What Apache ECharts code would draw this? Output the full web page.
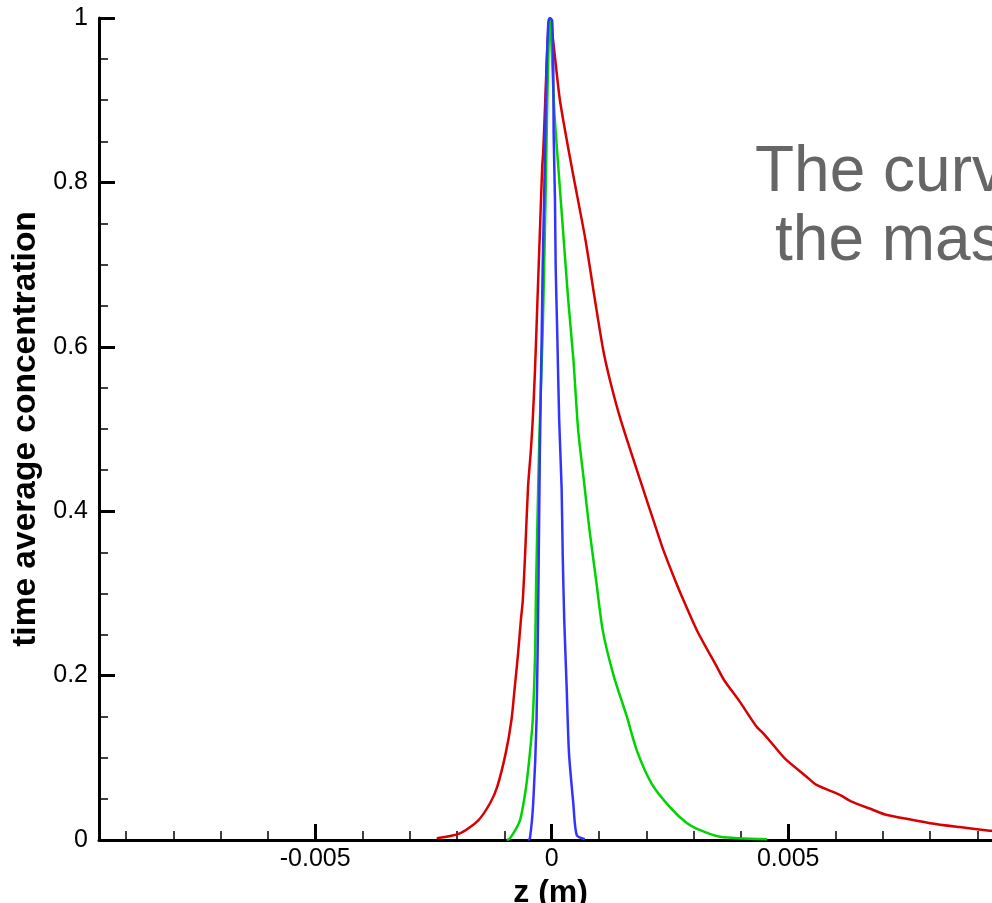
<!DOCTYPE html>
<html><head><meta charset="utf-8">
<script src="https://cdn.jsdelivr.net/npm/echarts@6/dist/echarts.min.js"></script>
<style>html,body{margin:0;padding:0;background:#fff}#chart{width:992px;height:903px}</style>
</head><body><div id="chart"></div>
<script>
// ---- data ----
const redZ = [-0.00243,-0.00194,-0.00155,-0.0013,-0.00115,-0.00097,-0.00085,-0.00078,-0.00071,-0.00065,-0.00061,-0.00056,-0.0005,-0.00044,-0.0004,-0.00035,-0.0003,-0.00025,-0.0002,-0.00018,-0.00004,
  0.000034,0.000175,0.000423,0.000715,0.000915,0.00109,0.00123,0.00146,0.00187,0.00222,0.00236,0.00261,0.002755,0.00308,0.00349,0.00364,0.00398,0.00433,0.00447,0.004685,0.00495,0.00539,0.0056,0.0061,0.00633,0.0068,0.00705,0.00764,0.008,0.00856,0.00922,0.0095];
const redC = [0.002,0.008,0.024,0.045,0.065,0.106,0.146,0.186,0.227,0.268,0.292,0.349,0.429,0.474,0.511,0.575,0.657,0.738,0.819,0.836,1.0,
  0.971,0.900,0.819,0.730,0.657,0.596,0.560,0.511,0.438,0.377,0.353,0.316,0.296,0.254,0.211,0.195,0.168,0.138,0.130,0.1156,0.098,0.077,0.067,0.0547,0.047,0.0365,0.031,0.0243,0.0205,0.0162,0.0116,0.0108];

const greenZ = [-0.00095,-0.00088,-0.00067,-0.00054,-0.00046,-0.0004,-0.00035,-0.00033,-0.0003,-0.00026,-0.00019,-0.00013,-0.0001,-0.00007,-0.00004,
  0.000055,0.00014,0.000245,0.00035,0.00046,0.00056,0.00068,0.0008,0.00094,0.00108,0.00131,0.00159,0.0018,0.00211,0.0025,0.00285,0.00314,0.00356,0.00455];
const greenC = [0,0.002,0.024,0.065,0.106,0.146,0.227,0.308,0.389,0.49,0.617,0.779,0.876,0.955,1.0,
  0.888,0.819,0.738,0.657,0.584,0.499,0.438,0.377,0.316,0.255,0.2,0.15,0.109,0.069,0.04,0.021,0.012,0.004,0.001];

const blueZ = [-0.0005,-0.00046,-0.00039,-0.00032,-0.00028,-0.00025,-0.00021,-0.00019,-0.00016,-0.000135,-0.000106,-0.00007,-0.00004,
  0.00001,0.000034,0.000042,0.00007,0.000085,0.000118,0.000159,0.00021,0.000233,0.000266,0.000317,0.000366,0.000457,0.00053,0.0007];
const blueC = [0,0.002,0.045,0.146,0.308,0.471,0.617,0.697,0.779,0.86,0.94,0.995,1.0,
  0.997,0.94,0.86,0.779,0.697,0.617,0.511,0.429,0.349,0.268,0.186,0.106,0.045,0.006,0.001];

const xMajorTicks = [-0.005, 0, 0.005];
const xMinorTicks = [-0.009,-0.008,-0.007,-0.006,-0.004,-0.003,-0.002,-0.001,0.001,0.002,0.003,0.004,0.006,0.007,0.008,0.009,0.010];
const yTickLabels = [0, 0.2, 0.4, 0.6, 0.8, 1];

const xTitle = 'z (m)';
const yTitle = 'time average concentration';
const noteLine1 = 'The curves';
const noteLine2 = 'the mass';

// ---- chart ----
const zip = (a, b) => a.map((v, i) => [v, b[i]]);
const FONT = 'Liberation Sans, Arial, Helvetica, sans-serif';
const xMin = -0.00957, xMax = 0.0105;
const chart = echarts.init(document.getElementById('chart'), null, {renderer: 'canvas'});

const lineSeries = (name, z, c, color) => ({
  name, type: 'line', xAxisIndex: 0, yAxisIndex: 0,
  data: zip(z, c), showSymbol: false, symbol: 'none',
  smooth: 0.25,
  lineStyle: {color, width: 2.5, join: 'round'}, itemStyle: {color},
  animation: false, z: 3
});

chart.setOption({
  animation: false,
  backgroundColor: '#ffffff',
  grid: {left: 99, top: 18, height: 822, width: (xMax - xMin) * 47300, containLabel: false, outerBoundsMode: 'none'},
  xAxis: [{
    type: 'value', min: xMin, max: xMax, position: 'bottom',
    name: xTitle, nameLocation: 'middle', nameGap: 32,
    nameTextStyle: {fontFamily: FONT, fontWeight: 'bold', fontSize: 32, color: '#000', padding: [0, 46, 0, 0]},
    axisLine: {show: true, onZero: false, lineStyle: {color: '#000', width: 3}},
    axisTick: {show: true, inside: true, length: 16, customValues: xMajorTicks, lineStyle: {color: '#000', width: 3}},
    axisLabel: {show: true, customValues: xMajorTicks, margin: 7, fontFamily: FONT, fontSize: 25, color: '#000',
      formatter: v => String(+v.toFixed(4))},
    splitLine: {show: false}
  }, {
    type: 'value', min: xMin, max: xMax, position: 'bottom',
    axisLine: {show: false, onZero: false},
    axisTick: {show: true, inside: true, length: 9, customValues: xMinorTicks, lineStyle: {color: '#000', width: 1.5}},
    axisLabel: {show: false},
    splitLine: {show: false}
  }],
  yAxis: [{
    type: 'value', min: 0, max: 1, interval: 0.2, position: 'left',
    name: yTitle, nameLocation: 'middle', nameGap: 56,
    nameTextStyle: {fontFamily: FONT, fontWeight: 'bold', fontSize: 33.5, color: '#000'},
    axisLine: {show: true, onZero: false, lineStyle: {color: '#000', width: 3}},
    axisTick: {show: true, inside: true, length: 16, lineStyle: {color: '#000', width: 3}},
    minorTick: {show: true, splitNumber: 4, length: 9, lineStyle: {color: '#000', width: 1.5}},
    axisLabel: {show: true, margin: 11, fontFamily: FONT, fontSize: 25, color: '#000',
      customValues: yTickLabels, formatter: v => String(+v.toFixed(2))},
    splitLine: {show: false}, minorSplitLine: {show: false}
  }],
  series: [
    lineSeries('red', redZ, redC, '#d80000'),
    lineSeries('green', greenZ, greenC, '#00d400'),
    lineSeries('blue', blueZ, blueC, '#3333ff')
  ],
  graphic: [
    {type: 'text', left: 755, top: 173 - 32, silent: true, z: 10,
      style: {text: noteLine1, fill: '#666666', font: '64px ' + FONT}},
    {type: 'text', left: 775, top: 242 - 32, silent: true, z: 10,
      style: {text: noteLine2, fill: '#666666', font: '64px ' + FONT}}
  ]
});
</script></body></html>
